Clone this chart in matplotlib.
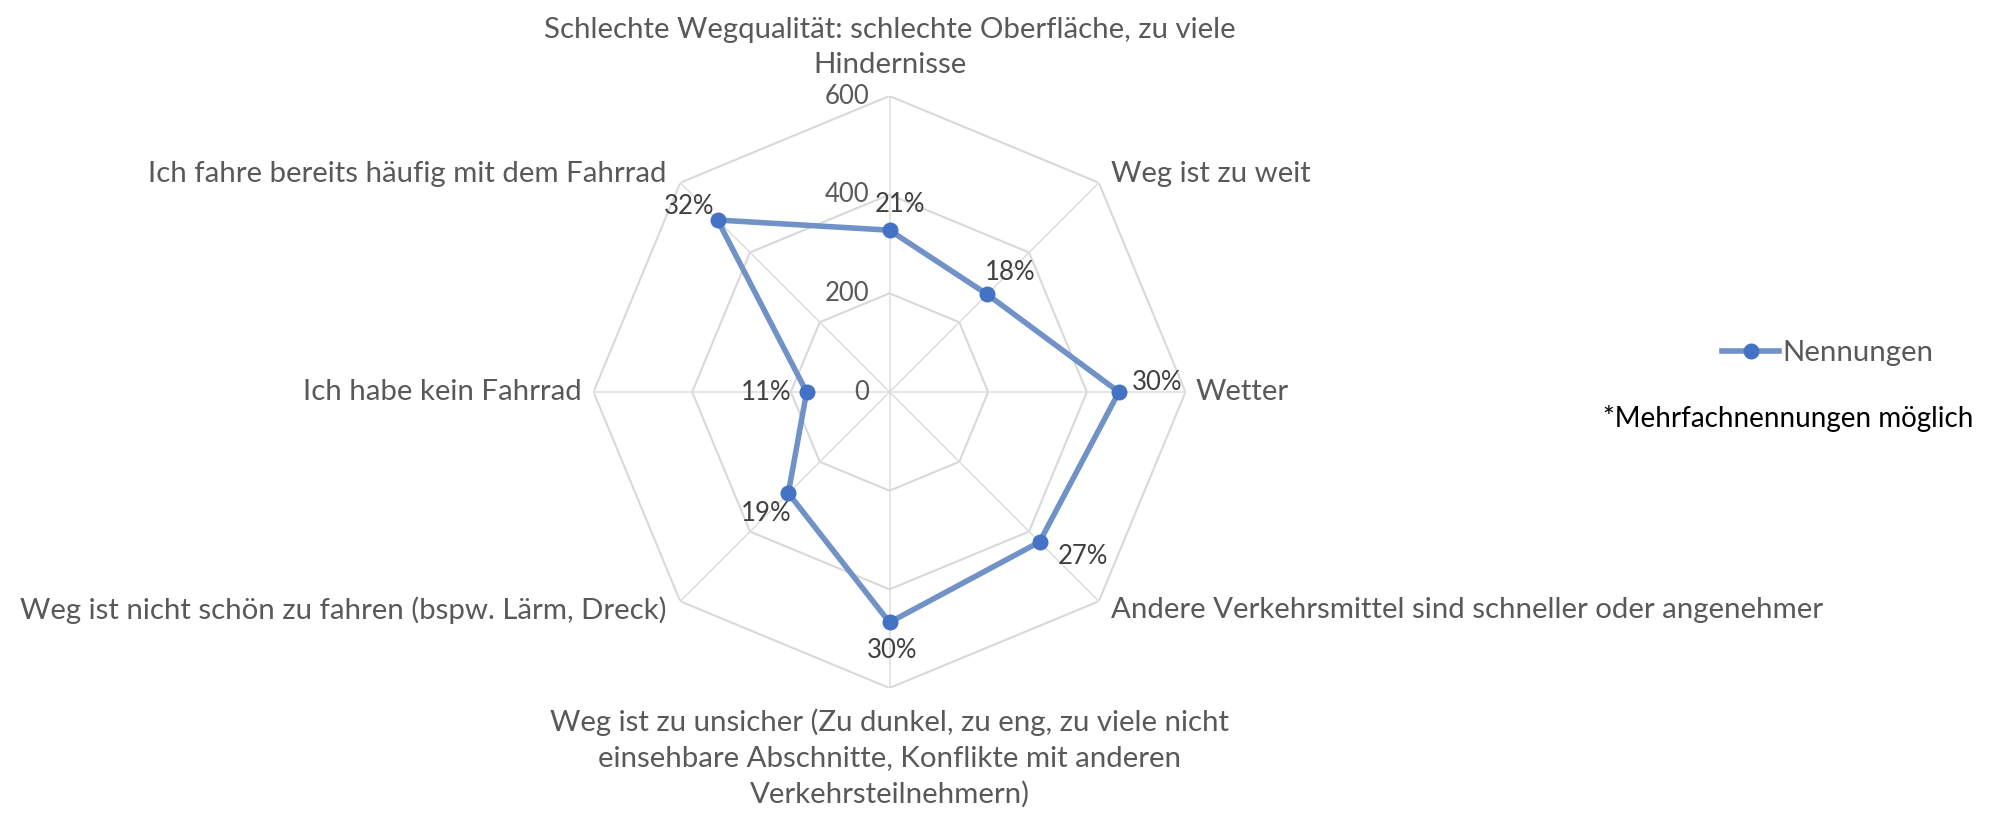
import numpy as np
import matplotlib.pyplot as plt
from matplotlib.lines import Line2D

plt.rcParams['font.family'] = ['Lato', 'DejaVu Sans']

# Daten
kategorien = [
    'Schlechte Wegqualität: schlechte Oberfläche, zu viele\nHindernisse',
    'Weg ist zu weit',
    'Wetter',
    'Andere Verkehrsmittel sind schneller oder angenehmer',
    'Weg ist zu unsicher (Zu dunkel, zu eng, zu viele nicht\neinsehbare Abschnitte, Konflikte mit anderen\nVerkehrsteilnehmern)',
    'Weg ist nicht schön zu fahren (bspw. Lärm, Dreck)',
    'Ich habe kein Fahrrad',
    'Ich fahre bereits häufig mit dem Fahrrad',
]
nennungen = [328, 280, 465, 430, 467, 290, 168, 493]
prozente = ['21%', '18%', '30%', '27%', '30%', '19%', '11%', '32%']
ringe = [0, 200, 400, 600]

# Lage der Beschriftungen (Pixel-Offsets)
kat_offset = [(0, 18), (12, 9), (10, 0), (12, -9), (0, -20), (-14, -9), (-12, 0), (-14, 9)]
kat_align = [('center', 'bottom'), ('left', 'center'), ('left', 'center'), ('left', 'center'),
             ('center', 'top'), ('right', 'center'), ('right', 'center'), ('right', 'center')]
proz_offset = [(10, 26), (23, 22), (38, 9), (43, -14), (3, -28), (-22, -20), (-40, 0), (-28, 14)]

W, H = 2001, 814
cx, cy, R = 889.5, 392, 296

fig = plt.figure(figsize=(W / 100, H / 100), dpi=100)
ax = fig.add_axes([(cx - R) / W, (H - cy - R) / H, 2 * R / W, 2 * R / H], projection='polar')
ax.set_theta_zero_location('N')
ax.set_theta_direction(-1)
ax.set_ylim(0, 600)
ax.grid(False)
ax.spines['polar'].set_visible(False)
ax.set_xticks([])
ax.set_yticks([])
ax.patch.set_visible(False)

theta = np.arange(len(kategorien)) * 2 * np.pi / len(kategorien)
theta_zu = np.append(theta, theta[0])

# Achteck-Gitter
for r in ringe[1:]:
    ax.plot(theta_zu, [r] * len(theta_zu), color='#D9D9D9', lw=1.5, zorder=1)
for t in theta:
    ax.plot([t, t], [0, ringe[-1]], color='#DEDEDE', lw=1.1, zorder=1)

for r in ringe:
    ax.annotate(str(r), xy=(0, r), xytext=(-20, 0), textcoords='offset pixels',
                ha='right', va='center', fontsize=18.5, color='#595959')

# Datenreihe
werte_zu = nennungen + nennungen[:1]
ax.plot(theta_zu, werte_zu, color='#7092C6', lw=4, zorder=3)
ax.plot(theta, nennungen, 'o', color='#4472C4', markersize=10.5, zorder=4)

for t, v, p, off in zip(theta, nennungen, prozente, proz_offset):
    ax.annotate(p, xy=(t, v), xytext=off, textcoords='offset pixels',
                ha='center', va='center', fontsize=18.5, color='#404040')

for t, k, off, al in zip(theta, kategorien, kat_offset, kat_align):
    ax.annotate(k, xy=(t, ringe[-1]), xytext=off, textcoords='offset pixels',
                ha=al[0], va=al[1], multialignment='center', fontsize=21.2,
                color='#595959', linespacing=1.45, annotation_clip=False)

# Legende
handle = Line2D([], [], color='#7092C6', lw=4, marker='o', markersize=10.5,
                markerfacecolor='#4472C4', markeredgecolor='#4472C4')
fig.legend([handle], ['Nennungen'], loc='center left',
           bbox_to_anchor=(1722 / W, 1 - 353 / H), frameon=False, fontsize=21.2,
           labelcolor='#595959', handlelength=1.95, handletextpad=0.1,
           borderpad=0, borderaxespad=0)
fig.text(1603 / W, 1 - 419 / H, '*Mehrfachnennungen möglich', ha='left', va='center',
         fontsize=20, color='black')

fig.savefig('out.png', dpi=100)
